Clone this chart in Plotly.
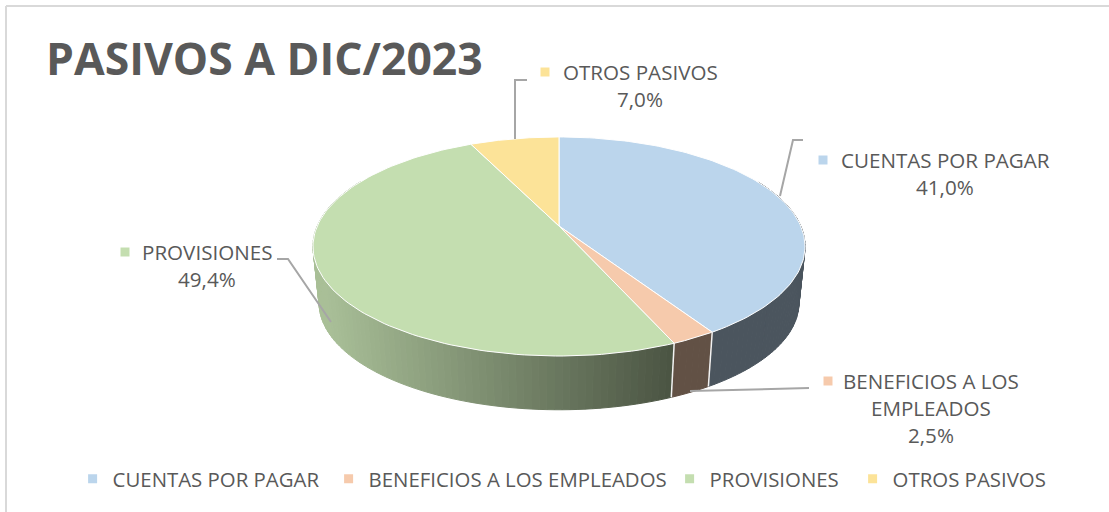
import numpy as np
import plotly.graph_objects as go

categories = ["CUENTAS POR PAGAR", "BENEFICIOS A LOS EMPLEADOS", "PROVISIONES", "OTROS PASIVOS"]
label_lines = [["CUENTAS POR PAGAR"], ["BENEFICIOS A LOS", "EMPLEADOS"], ["PROVISIONES"], ["OTROS PASIVOS"]]
values = [41.0, 2.5, 49.4, 7.0]
colors = ["#BBD5EC", "#F6CAAC", "#C4DEB0", "#FCE398"]
title_text = "PASIVOS A DIC/2023"

W, H = 1109, 512
CX, APEX_Y = 559.0, 226.0
A, B, K = 105.7, 241.7, 0.187
WALL_SCALE, WALL_APEX_Y = 0.975, 283.0
TEXT = "#595959"
LEADER = "#A6A6A6"
FONT = "Open Sans"


def rim(theta, scale=1.0, apex=APEX_Y):
    u, v = np.sin(theta), -np.cos(theta)
    d = 1 - K * v
    return CX + scale * B * u / d, apex + scale * A * v / d


def wall_factor(x):
    t = np.clip((x - 325) / (672 - 325), 0, 1)
    return 0.86 - 0.48 * t if x < 673 else 0.40


def shade(hex_col, f):
    r, g, b = (int(hex_col[i:i + 2], 16) for i in (1, 3, 5))
    return f"rgb({r * f:.0f},{g * f:.0f},{b * f:.0f})"


total = sum(values)
edges = 2 * np.pi * np.concatenate([[0], np.cumsum(values)]) / total
fig = go.Figure()

# side wall, drawn as thin strips from the slice angles
for i, col in enumerate(colors):
    n = max(2, int(np.degrees(edges[i + 1] - edges[i]) / 1.5))
    th = np.linspace(edges[i], edges[i + 1], n + 1)
    for t0, t1 in zip(th[:-1], th[1:]):
        if -np.cos((t0 + t1) / 2) < -0.45:
            continue
        x0, y0 = rim(t0)
        x1, y1 = rim(t1)
        x2, y2 = rim(t1, WALL_SCALE, WALL_APEX_Y)
        x3, y3 = rim(t0, WALL_SCALE, WALL_APEX_Y)
        c = shade(col, wall_factor((x0 + x1) / 2))
        fig.add_trace(go.Scatter(x=[x0, x1, x2, x3, x0], y=[y0, y1, y2, y3, y0], mode="lines",
                                 fill="toself", fillcolor=c, line=dict(color=c, width=1),
                                 showlegend=False, hoverinfo="skip"))

# white seams on the wall between slices
for t in edges[1:3]:
    x0, y0 = rim(t)
    x1, y1 = rim(t, WALL_SCALE, WALL_APEX_Y)
    fig.add_trace(go.Scatter(x=[x0, x1], y=[y0, y1], mode="lines",
                             line=dict(color="#F2F2F2", width=1.5), showlegend=False, hoverinfo="skip"))

# top face
for i, col in enumerate(colors):
    th = np.linspace(edges[i], edges[i + 1], 120)
    xs, ys = rim(th)
    fig.add_trace(go.Scatter(x=[CX, *xs, CX], y=[APEX_Y, *ys, APEX_Y], mode="lines",
                             fill="toself", fillcolor=col, line=dict(color="#FFFFFF", width=1),
                             showlegend=False, hoverinfo="text", text=categories[i]))

# leader lines
leaders = [
    ([780, 793, 803], [196, 140, 140]),
    ([690, 809], [391, 388]),
    ([277, 288, 331], [259, 259, 322]),
    ([515, 515, 527], [139, 80, 80]),
]
for lx, ly in leaders:
    fig.add_trace(go.Scatter(x=lx, y=ly, mode="lines", line=dict(color=LEADER, width=2),
                             showlegend=False, hoverinfo="skip"))

# data-label keys
key_x = [823, 828, 125, 545]
key_y = [160, 381, 252, 72]
fig.add_trace(go.Scatter(x=key_x, y=key_y, mode="markers",
                         marker=dict(symbol="square", size=9, color=colors),
                         showlegend=False, hoverinfo="skip"))

# data labels
label_x = [945, 931, 207, 640]
label_y = [160, 381, 252, 72]
LINE = 27.2
annots = []
for i, lines in enumerate(label_lines):
    pct = f"{values[i]:.1f}".replace(".", ",") + "%"
    for j, s in enumerate(lines + [pct]):
        annots.append(dict(x=label_x[i], y=label_y[i] + j * LINE, text=s, showarrow=False,
                           xanchor="center", yanchor="middle",
                           font=dict(family=FONT, size=20.6, color=TEXT)))
annots.append(dict(x=44, y=57, text=f"<b>{title_text}</b>", showarrow=False, xanchor="left",
                   yanchor="middle", font=dict(family=FONT, size=44.5, color=TEXT)))

# legend: one block per entry so each can sit at its own position
legend_text_x = [112, 368, 709, 892]
legend_layout = {}
for i, (c, col) in enumerate(zip(categories, colors)):
    key = "legend" if i == 0 else f"legend{i + 1}"
    fig.add_trace(go.Scatter(x=[None], y=[None], mode="markers", name=c, legend=key,
                             marker=dict(symbol="square", size=9, color=col)))
    legend_layout[key] = dict(x=(legend_text_x[i] - 39.4) / W, y=1 - 479 / H, xanchor="left", yanchor="middle",
                              orientation="h", font=dict(family=FONT, size=20.4, color=TEXT),
                              itemsizing="trace", bgcolor="rgba(0,0,0,0)")

# frame
fig.add_shape(type="line", x0=6, x1=W, y0=6, y1=6, line=dict(color="#D9D9D9", width=2))
fig.add_shape(type="line", x0=6, x1=6, y0=6, y1=H, line=dict(color="#D9D9D9", width=2))

fig.update_layout(
    width=W, height=H, margin=dict(l=0, r=0, t=0, b=0),
    paper_bgcolor="white", plot_bgcolor="white",
    xaxis=dict(range=[0, W], visible=False, fixedrange=True),
    yaxis=dict(range=[H, 0], visible=False, fixedrange=True),
    showlegend=True,
    annotations=annots,
    **legend_layout,
)
fig.write_html("out.html", post_script="document.body.style.margin='0';", config={"displayModeBar": False})
